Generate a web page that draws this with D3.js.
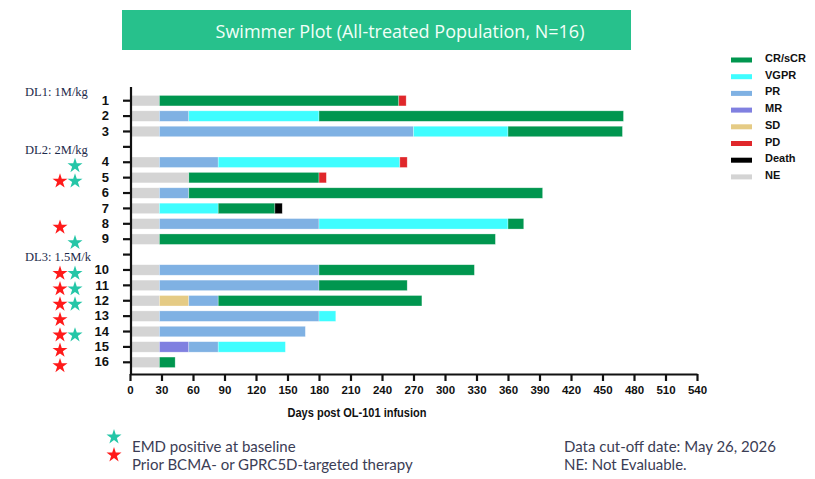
<!DOCTYPE html>
<html>
<head>
<meta charset="utf-8">
<script src="https://cdn.jsdelivr.net/npm/d3@7"></script>
<style>
  body { margin: 0; background: #fff; }
  svg { display: block; }
</style>
</head>
<body>
<div id="chart"></div>
<script>
// rows on the y axis, with two empty slots separating the dose levels
const slots = ["1", "2", "3", "gap1", "4", "5", "6", "7", "8", "9", "gap2",
  "10", "11", "12", "13", "14", "15", "16"];

// response segments per patient: [status, end day]
const segments = {
  "1": [["NE", 28], ["CR", 256], ["PD", 263]],
  "2": [["NE", 28], ["PR", 56], ["VGPR", 180], ["CR", 470]],
  "3": [["NE", 28], ["PR", 270], ["VGPR", 360], ["CR", 469]],
  "4": [["NE", 28], ["PR", 84], ["VGPR", 257], ["PD", 264]],
  "5": [["NE", 56], ["CR", 180], ["PD", 187]],
  "6": [["NE", 28], ["PR", 56], ["CR", 393]],
  "7": [["NE", 28], ["VGPR", 84], ["CR", 138], ["Death", 145]],
  "8": [["NE", 28], ["PR", 180], ["VGPR", 360], ["CR", 375]],
  "9": [["NE", 28], ["CR", 348]],
  "10": [["NE", 28], ["PR", 180], ["CR", 328]],
  "11": [["NE", 28], ["PR", 180], ["CR", 264]],
  "12": [["NE", 28], ["SD", 56], ["PR", 84], ["CR", 278]],
  "13": [["NE", 28], ["PR", 180], ["VGPR", 196]],
  "14": [["NE", 28], ["PR", 167]],
  "15": [["NE", 28], ["MR", 56], ["PR", 84], ["VGPR", 148]],
  "16": [["NE", 28], ["CR", 43]]
};

const emdPositive = ["4", "5", "9", "10", "11", "12", "14"];
const priorTargeted = ["5", "8", "10", "11", "12", "13", "14", "15", "16"];

const doseLabels = [
  { slot: "1", text: "DL1: 1M/kg", dy: -4.5 },
  { slot: "gap1", text: "DL2: 2M/kg", dy: 7 },
  { slot: "gap2", text: "DL3: 1.5M/kg", dy: 6 }
];

const statusKeys = ["CR", "VGPR", "PR", "MR", "SD", "PD", "Death", "NE"];
const statusNames = ["CR/sCR", "VGPR", "PR", "MR", "SD", "PD", "Death", "NE"];
const statusColors = ["#00964f", "#3ffdff", "#7fb1e3", "#8080e0", "#e5cb85", "#e0272b", "#000000", "#d4d4d4"];

const xTicks = d3.range(0, 541, 30);

const width = 815, height = 479;

const svg = d3.select("#chart").append("svg")
  .attr("width", width)
  .attr("height", height);

const color = d3.scaleOrdinal().domain(statusKeys).range(statusColors);

const x = d3.scaleLinear().domain([0, 540]).range([130, 697]);
const y = d3.scaleBand().domain(slots).range([93, 370]);
const yc = (s) => y(s) + y.bandwidth() / 2;

// title banner
svg.append("rect")
  .attr("x", 122).attr("y", 10)
  .attr("width", 509).attr("height", 40)
  .attr("fill", "#27c18c");

svg.append("text")
  .attr("x", 400).attr("y", 38)
  .attr("text-anchor", "middle")
  .style("font-family", "'Open Sans', 'Noto Sans', sans-serif")
  .style("font-size", "18px")
  .style("fill", "#f2fff8")
  .text("Swimmer Plot (All-treated Population, N=16)");

// bars
const barH = 10.5;
const barData = [];
Object.keys(segments).forEach((p) => {
  let start = 0;
  segments[p].forEach(([status, end]) => {
    barData.push({ patient: p, status: status, start: start, end: end });
    start = end;
  });
});

svg.append("g")
  .selectAll("rect")
  .data(barData)
  .join("rect")
  .attr("x", (d) => x(d.start))
  .attr("y", (d) => yc(d.patient) - barH / 2)
  .attr("width", (d) => x(d.end) - x(d.start))
  .attr("height", barH)
  .attr("fill", (d) => color(d.status))
  .attr("stroke", "#ffffff")
  .attr("stroke-opacity", 0.5)
  .attr("stroke-width", 0.6);

// y axis
const yAxis = svg.append("g")
  .attr("transform", "translate(131,0)")
  .call(d3.axisLeft(y).tickSize(8).tickPadding(14)
    .tickFormat((d) => d.startsWith("gap") ? "" : d));
yAxis.select(".domain").attr("d", "M0,87V375").attr("stroke", "#111").attr("stroke-width", 2.2);
yAxis.selectAll(".tick line").attr("stroke", "#111").attr("stroke-width", 2.2);
yAxis.selectAll(".tick text")
  .style("font-family", "'Liberation Sans', Arial, sans-serif")
  .style("font-weight", "bold")
  .style("font-size", "13px")
  .style("fill", "#111");

// x axis
const xAxis = svg.append("g")
  .attr("transform", "translate(0,374)")
  .call(d3.axisBottom(x).tickValues(xTicks).tickSize(7).tickPadding(5).tickSizeOuter(0));
xAxis.select(".domain").attr("stroke", "#111").attr("stroke-width", 2.2);
xAxis.selectAll(".tick line").attr("stroke", "#111").attr("stroke-width", 2.2);
xAxis.selectAll(".tick text")
  .style("font-family", "'Liberation Sans', Arial, sans-serif")
  .style("font-weight", "bold")
  .style("font-size", "11.5px")
  .style("fill", "#111");

svg.append("text")
  .attr("x", 357).attr("y", 417)
  .attr("text-anchor", "middle")
  .attr("textLength", 139)
  .attr("lengthAdjust", "spacingAndGlyphs")
  .style("font-family", "'Liberation Sans', Arial, sans-serif")
  .style("font-weight", "bold")
  .style("font-size", "12.5px")
  .style("fill", "#111")
  .text("Days post OL-101 infusion");

// dose level labels, the last one is cut off as in the source
svg.append("clipPath").attr("id", "doseClip")
  .append("rect").attr("x", 0).attr("y", 0).attr("width", 91).attr("height", height);

svg.append("g")
  .attr("clip-path", "url(#doseClip)")
  .selectAll("text")
  .data(doseLabels)
  .join("text")
  .attr("x", 25)
  .attr("y", (d) => yc(d.slot) + d.dy)
  .style("font-family", "'Liberation Serif', 'Times New Roman', serif")
  .style("font-size", "12.5px")
  .style("fill", "#1c2a4a")
  .text((d) => d.text);

// stars
const star = d3.symbol().type(d3.symbolStar).size(70);
const teal = "#25c6a7", red = "#ff1a1a";

svg.append("g")
  .selectAll("path")
  .data(emdPositive)
  .join("path")
  .attr("d", star)
  .attr("transform", (d) => `translate(75,${yc(d) + 3.5})`)
  .attr("fill", teal);

svg.append("g")
  .selectAll("path")
  .data(priorTargeted)
  .join("path")
  .attr("d", star)
  .attr("transform", (d) => `translate(60,${yc(d) + 3.5})`)
  .attr("fill", red);

// legend
const legend = svg.append("g");
statusKeys.forEach((k, i) => {
  const ly = 60 + i * 16.7;
  legend.append("rect")
    .attr("x", 731).attr("y", ly - 2.5)
    .attr("width", 21).attr("height", 5)
    .attr("fill", color(k));
  legend.append("text")
    .attr("x", 765).attr("y", ly + 2)
    .style("font-family", "'Liberation Sans', Arial, sans-serif")
    .style("font-weight", "bold")
    .style("font-size", "11px")
    .style("fill", "#111")
    .text(statusNames[i]);
});

// footnotes
svg.append("path").attr("d", star).attr("transform", "translate(114,437)").attr("fill", teal);
svg.append("path").attr("d", star).attr("transform", "translate(114,455)").attr("fill", red);

const noteStyle = (sel) => sel
  .style("font-family", "'Lato', 'Noto Sans', sans-serif")
  .style("font-size", "15px")
  .style("fill", "#3b3d55");

svg.append("text").attr("x", 132).attr("y", 452).call(noteStyle).text("EMD positive at baseline");
svg.append("text").attr("x", 132).attr("y", 470).call(noteStyle).text("Prior BCMA- or GPRC5D-targeted therapy");
svg.append("text").attr("x", 564).attr("y", 452).call(noteStyle).text("Data cut-off date: May 26, 2026");
svg.append("text").attr("x", 564).attr("y", 470).call(noteStyle).text("NE: Not Evaluable.");
</script>
</body>
</html>
